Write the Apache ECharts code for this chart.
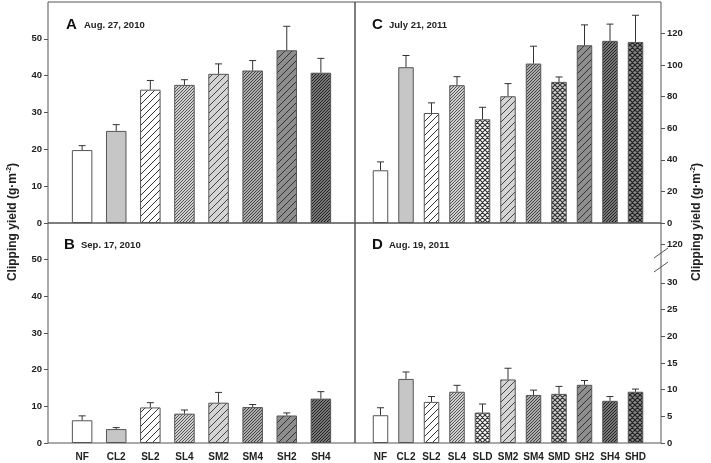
<!DOCTYPE html>
<html>
<head>
<meta charset="utf-8">
<script src="https://cdn.jsdelivr.net/npm/echarts@6/dist/echarts.min.js"></script>
<style>
  html, body { margin: 0; background: #fff; }
  #chart { width: 711px; height: 463px; }
</style>
</head>
<body>
<div id="chart"></div>
<script>
// treatments
const cats2010 = ['NF', 'CL2', 'SL2', 'SL4', 'SM2', 'SM4', 'SH2', 'SH4']
const cats2011 = ['NF', 'CL2', 'SL2', 'SL4', 'SLD', 'SM2', 'SM4', 'SMD', 'SH2', 'SH4', 'SHD']

// clipping yield (g/m2) and SE
const aug2010 = [19.8, 25.0, 36.2, 37.5, 40.5, 41.4, 46.9, 40.8]
const aug2010Se = [1.2, 1.7, 2.5, 1.4, 2.7, 2.7, 6.5, 3.9]
const sep2010 = [6.2, 3.8, 9.7, 8.0, 11.0, 9.8, 7.5, 12.1]
const sep2010Se = [1.2, 0.4, 1.3, 1.0, 2.8, 0.7, 0.7, 1.9]
const jul2011 = [33.4, 98.7, 69.7, 87.3, 65.7, 80.3, 101.0, 89.4, 112.6, 115.4, 114.7]
const jul2011Se = [5.3, 7.4, 6.4, 5.4, 7.6, 8.0, 11.0, 3.1, 12.9, 10.6, 16.9]
const aug2011 = [5.2, 12.0, 7.7, 9.6, 5.7, 11.9, 9.0, 9.2, 10.9, 7.9, 9.6]
const aug2011Se = [1.4, 1.3, 1.0, 1.2, 1.6, 2.1, 0.9, 1.4, 0.8, 0.8, 0.5]

const leftTicks = [0, 10, 20, 30, 40, 50]
const rightTicksC = [0, 20, 40, 60, 80, 100, 120]
const rightTicksD = [0, 5, 10, 15, 20, 25, 30, 120]

const frame = '#555'
const ink = '#222'
const font = 'Liberation Sans, Arial, sans-serif'

function hatch(bg, line, step, width, cross) {
  const c = document.createElement('canvas')
  c.width = c.height = step
  const g = c.getContext('2d')
  g.fillStyle = bg
  g.fillRect(0, 0, step, step)
  g.strokeStyle = line
  g.lineWidth = width
  g.beginPath()
  for (const o of [-step, 0, step]) {
    g.moveTo(o, step); g.lineTo(o + step, 0)
    if (cross) { g.moveTo(o, 0); g.lineTo(o + step, step) }
  }
  g.stroke()
  return { image: c, repeat: 'repeat' }
}

const fills = {
  NF: '#ffffff',
  CL2: '#c6c6c6',
  SL2: hatch('#ffffff', '#333', 7, 1),
  SL4: hatch('#d0d0d0', '#555', 3, 1),
  SLD: hatch('#ffffff', '#333', 5, 1.2, true),
  SM2: hatch('#d4d4d4', '#444', 7, 1),
  SM4: hatch('#acacac', '#444', 3, 1),
  SMD: hatch('#d0d0d0', '#333', 5, 1.2, true),
  SH2: hatch('#8e8e8e', '#333', 7, 1),
  SH4: hatch('#787878', '#222', 3, 1),
  SHD: hatch('#8a8a8a', '#222', 5, 1.2, true)
}

function barSeries(idx, cats, vals, width) {
  return {
    type: 'bar', xAxisIndex: idx, yAxisIndex: idx, barWidth: width,
    data: vals.map((v, i) => ({
      value: [i + 1, v],
      itemStyle: { color: fills[cats[i]], borderColor: frame, borderWidth: 1 }
    }))
  }
}

function errSeries(idx, vals, se) {
  return {
    type: 'custom', xAxisIndex: idx, yAxisIndex: idx, z: 3,
    data: vals.map((v, i) => [i + 1, v, se[i]]),
    renderItem(params, api) {
      const p0 = api.coord([api.value(0), api.value(1)])
      const p1 = api.coord([api.value(0), api.value(1) + api.value(2)])
      const st = { stroke: '#333', lineWidth: 1 }
      return {
        type: 'group',
        children: [
          { type: 'line', shape: { x1: p0[0], y1: p0[1], x2: p1[0], y2: p1[1] }, style: st },
          { type: 'line', shape: { x1: p1[0] - 3.5, y1: p1[1], x2: p1[0] + 3.5, y2: p1[1] }, style: st }
        ]
      }
    }
  }
}

function xAxis(idx, cats, showLabels) {
  return {
    type: 'value', gridIndex: idx, min: 0, max: cats.length + 1,
    axisLine: { show: false, onZero: false }, axisTick: { show: false }, splitLine: { show: false },
    axisLabel: {
      show: showLabels, customValues: cats.map((c, i) => i + 1),
      formatter: v => cats[v - 1] || '', margin: 9,
      color: ink, fontWeight: 'bold', fontSize: 10, fontFamily: font
    }
  }
}

function yAxis(idx, side, max, ticks, extra) {
  return Object.assign({
    type: 'value', gridIndex: idx, position: side, min: 0, max: max,
    axisLine: { show: false, onZero: false }, splitLine: { show: false },
    axisTick: { show: true, inside: false, length: 4, customValues: ticks, lineStyle: { color: frame } },
    axisLabel: {
      customValues: ticks, margin: 6, color: ink, fontWeight: 'bold', fontSize: 9.5, fontFamily: font
    }
  }, extra || {})
}

const gridBase = { show: true, borderColor: frame, borderWidth: 1, containLabel: false }

function titleText(x) {
  return {
    type: 'text', x: x, y: 222, rotation: Math.PI / 2,
    style: {
      text: '{t|Clipping yield (g·m}{s|-2}{t|)}',
      align: 'center', verticalAlign: 'middle',
      rich: {
        t: { fontSize: 12, fontWeight: 'bold', fontFamily: font, fill: ink, lineHeight: 14 },
        s: { fontSize: 7, fontWeight: 'bold', fontFamily: font, fill: ink, verticalAlign: 'top', lineHeight: 14 }
      }
    }
  }
}

function panelLabel(x, y, letter, date) {
  return [
    { type: 'text', x: x, y: y, style: { text: letter, fontSize: 15, fontWeight: 'bold', fontFamily: font, fill: '#111', verticalAlign: 'middle' } },
    { type: 'text', x: x + (letter === 'A' ? 18 : 17), y: y, style: { text: date, fontSize: 9.5, fontWeight: 'bold', fontFamily: font, fill: ink, verticalAlign: 'middle' } }
  ]
}

const chart = echarts.init(document.getElementById('chart'))
chart.setOption({
  animation: false,
  backgroundColor: '#fff',
  grid: [
    Object.assign({ left: 48, top: 2, width: 307, height: 221 }, gridBase),
    Object.assign({ left: 48, top: 223, width: 307, height: 220 }, gridBase),
    Object.assign({ left: 355, top: 2, width: 306, height: 221 }, gridBase),
    Object.assign({ left: 355, top: 223, width: 306, height: 220 }, gridBase)
  ],
  xAxis: [
    xAxis(0, cats2010, false),
    xAxis(1, cats2010, true),
    xAxis(2, cats2011, false),
    xAxis(3, cats2011, true)
  ],
  yAxis: [
    yAxis(0, 'left', 60, leftTicks),
    yAxis(1, 'left', 60, leftTicks),
    yAxis(2, 'right', 140, rightTicksC),
    yAxis(3, 'right', 124, rightTicksD, {
      breaks: [{ start: 32.5, end: 117.5, gap: 2.2 }],
      breakArea: { show: false }
    })
  ],
  series: [
    barSeries(0, cats2010, aug2010, 20.5),
    errSeries(0, aug2010, aug2010Se),
    barSeries(1, cats2010, sep2010, 20.5),
    errSeries(1, sep2010, sep2010Se),
    barSeries(2, cats2011, jul2011, 15.5),
    errSeries(2, jul2011, jul2011Se),
    barSeries(3, cats2011, aug2011, 15.5),
    errSeries(3, aug2011, aug2011Se)
  ],
  graphic: [
    titleText(13),
    titleText(697),
    ...panelLabel(66, 25, 'A', 'Aug. 27, 2010'),
    ...panelLabel(64, 245, 'B', 'Sep. 17, 2010'),
    ...panelLabel(372, 25, 'C', 'July 21, 2011'),
    ...panelLabel(372, 245, 'D', 'Aug. 19, 2011'),
    { type: 'line', shape: { x1: 654, y1: 258, x2: 668, y2: 248 }, style: { stroke: frame, lineWidth: 1 } },
    { type: 'line', shape: { x1: 654, y1: 272, x2: 668, y2: 262 }, style: { stroke: frame, lineWidth: 1 } }
  ]
})
</script>
</body>
</html>
